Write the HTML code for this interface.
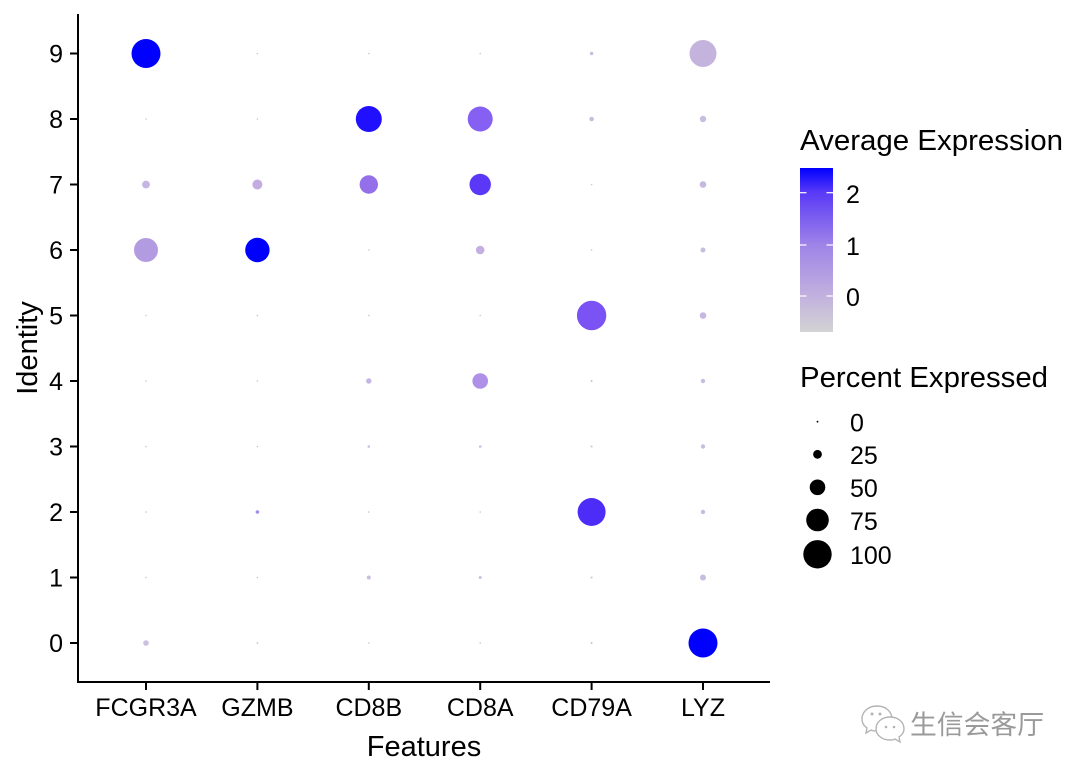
<!DOCTYPE html>
<html><head><meta charset="utf-8"><style>
html,body{margin:0;padding:0;background:#fff;}
svg{display:block;}
text{font-family:"Liberation Sans",Arial,sans-serif;fill:#000;}
</style></head><body>
<svg width="1080" height="771" viewBox="0 0 1080 771" xmlns="http://www.w3.org/2000/svg">
<defs>
<linearGradient id="cb" x1="0" y1="1" x2="0" y2="0">
<stop offset="0" stop-color="#D3D3D3"/>
<stop offset="0.22" stop-color="#C1B1DE"/>
<stop offset="0.53" stop-color="#9F84E8"/>
<stop offset="0.85" stop-color="#5A3AF6"/>
<stop offset="1" stop-color="#0000FF"/>
</linearGradient>
</defs>
<rect width="1080" height="771" fill="#fff"/>

<!-- dots -->
<g>
<!-- FCGR3A x=146 -->
<circle cx="146" cy="53.5" r="14.5" fill="#0000FF"/>
<circle cx="146" cy="119" r="0.8" fill="#c8c0dc"/>
<circle cx="146" cy="184.5" r="3.9" fill="#c6b4e2"/>
<circle cx="146" cy="250" r="12" fill="#b39be2"/>
<circle cx="146" cy="315.5" r="0.8" fill="#c8c0dc"/>
<circle cx="146" cy="381" r="0.8" fill="#c8c0dc"/>
<circle cx="146" cy="446.5" r="0.8" fill="#c8c0dc"/>
<circle cx="146" cy="512" r="0.8" fill="#c8c0dc"/>
<circle cx="146" cy="577.5" r="0.8" fill="#c8c0dc"/>
<circle cx="146" cy="643" r="2.8" fill="#cbc0df"/>
<!-- GZMB x=257.4 -->
<circle cx="257.4" cy="53.5" r="0.8" fill="#c8c0dc"/>
<circle cx="257.4" cy="119" r="0.8" fill="#c8c0dc"/>
<circle cx="257.4" cy="184.5" r="5" fill="#c2ace2"/>
<circle cx="257.4" cy="250" r="12.2" fill="#0000FF"/>
<circle cx="257.4" cy="315.5" r="0.8" fill="#c8c0dc"/>
<circle cx="257.4" cy="381" r="0.8" fill="#c8c0dc"/>
<circle cx="257.4" cy="446.5" r="0.8" fill="#c8c0dc"/>
<circle cx="257.4" cy="512" r="1.8" fill="#a58ae8"/>
<circle cx="257.4" cy="577.5" r="0.8" fill="#c8c0dc"/>
<circle cx="257.4" cy="643" r="0.9" fill="#c8c0dc"/>
<!-- CD8B x=368.8 -->
<circle cx="368.8" cy="53.5" r="0.8" fill="#c8c0dc"/>
<circle cx="368.8" cy="119" r="13" fill="#2010FF"/>
<circle cx="368.8" cy="184.5" r="9.2" fill="#9370ea"/>
<circle cx="368.8" cy="250" r="0.8" fill="#c8c0dc"/>
<circle cx="368.8" cy="315.5" r="0.8" fill="#c8c0dc"/>
<circle cx="368.8" cy="381" r="2.7" fill="#c6b4e2"/>
<circle cx="368.8" cy="446.5" r="1.3" fill="#c8c0dc"/>
<circle cx="368.8" cy="512" r="0.8" fill="#c8c0dc"/>
<circle cx="368.8" cy="577.5" r="2" fill="#cabde2"/>
<circle cx="368.8" cy="643" r="0.8" fill="#c8c0dc"/>
<!-- CD8A x=480.2 -->
<circle cx="480.2" cy="53.5" r="0.8" fill="#c8c0dc"/>
<circle cx="480.2" cy="119" r="12.5" fill="#8560f2"/>
<circle cx="480.2" cy="184.5" r="10.7" fill="#5b37f8"/>
<circle cx="480.2" cy="250" r="4.3" fill="#c4aee2"/>
<circle cx="480.2" cy="315.5" r="0.8" fill="#c8c0dc"/>
<circle cx="480.2" cy="381" r="7.8" fill="#ae90e8"/>
<circle cx="480.2" cy="446.5" r="1.3" fill="#c8c0dc"/>
<circle cx="480.2" cy="512" r="0.8" fill="#c8c0dc"/>
<circle cx="480.2" cy="577.5" r="1.5" fill="#c8c0dc"/>
<circle cx="480.2" cy="643" r="0.8" fill="#c8c0dc"/>
<!-- CD79A x=591.6 -->
<circle cx="591.6" cy="53.5" r="1.7" fill="#c8bce0"/>
<circle cx="591.6" cy="119" r="2.3" fill="#c8bce0"/>
<circle cx="591.6" cy="184.5" r="0.8" fill="#c8c0dc"/>
<circle cx="591.6" cy="250" r="0.8" fill="#c8c0dc"/>
<circle cx="591.6" cy="315.5" r="14.7" fill="#7b52f4"/>
<circle cx="591.6" cy="381" r="1" fill="#c8c0dc"/>
<circle cx="591.6" cy="446.5" r="1" fill="#c8c0dc"/>
<circle cx="591.6" cy="512" r="14" fill="#4d2cf8"/>
<circle cx="591.6" cy="577.5" r="1" fill="#c8c0dc"/>
<circle cx="591.6" cy="643" r="1" fill="#c8c0dc"/>
<!-- LYZ x=703 -->
<circle cx="703" cy="53.5" r="13.5" fill="#c4b4dd"/>
<circle cx="703" cy="119" r="3.2" fill="#c8bce0"/>
<circle cx="703" cy="184.5" r="3.3" fill="#c6b8e0"/>
<circle cx="703" cy="250" r="2.5" fill="#c8bce0"/>
<circle cx="703" cy="315.5" r="3.3" fill="#c6b8e0"/>
<circle cx="703" cy="381" r="2.2" fill="#c8bce0"/>
<circle cx="703" cy="446.5" r="2.2" fill="#c8bce0"/>
<circle cx="703" cy="512" r="2.2" fill="#c8bce0"/>
<circle cx="703" cy="577.5" r="3" fill="#c8bce0"/>
<circle cx="703" cy="643" r="14.5" fill="#0000FF"/>
</g>

<!-- axes -->
<g stroke="#000" stroke-width="2" fill="none">
<line x1="78" y1="14" x2="78" y2="683"/>
<line x1="77" y1="682" x2="770" y2="682"/>
<line x1="70" y1="53.5" x2="78" y2="53.5"/>
<line x1="70" y1="119" x2="78" y2="119"/>
<line x1="70" y1="184.5" x2="78" y2="184.5"/>
<line x1="70" y1="250" x2="78" y2="250"/>
<line x1="70" y1="315.5" x2="78" y2="315.5"/>
<line x1="70" y1="381" x2="78" y2="381"/>
<line x1="70" y1="446.5" x2="78" y2="446.5"/>
<line x1="70" y1="512" x2="78" y2="512"/>
<line x1="70" y1="577.5" x2="78" y2="577.5"/>
<line x1="70" y1="643" x2="78" y2="643"/>
<line x1="146" y1="682" x2="146" y2="690"/>
<line x1="257.4" y1="682" x2="257.4" y2="690"/>
<line x1="368.8" y1="682" x2="368.8" y2="690"/>
<line x1="480.2" y1="682" x2="480.2" y2="690"/>
<line x1="591.6" y1="682" x2="591.6" y2="690"/>
<line x1="703" y1="682" x2="703" y2="690"/>
</g>

<!-- y tick labels -->
<g font-size="25" text-anchor="end">
<text x="63" y="62.5">9</text>
<text x="63" y="128">8</text>
<text x="63" y="193.5">7</text>
<text x="63" y="259">6</text>
<text x="63" y="324.5">5</text>
<text x="63" y="390">4</text>
<text x="63" y="455.5">3</text>
<text x="63" y="521">2</text>
<text x="63" y="586.5">1</text>
<text x="63" y="652">0</text>
</g>

<!-- x tick labels -->
<g font-size="25" text-anchor="middle">
<text x="146" y="716">FCGR3A</text>
<text x="257.4" y="716">GZMB</text>
<text x="368.8" y="716">CD8B</text>
<text x="480.2" y="716">CD8A</text>
<text x="591.6" y="716">CD79A</text>
<text x="703" y="716">LYZ</text>
</g>

<!-- axis titles -->
<text x="424" y="756" font-size="29" text-anchor="middle">Features</text>
<text transform="translate(37,348) rotate(-90)" font-size="29" text-anchor="middle">Identity</text>

<!-- colour legend -->
<text x="800" y="150" font-size="29" textLength="263" lengthAdjust="spacingAndGlyphs">Average Expression</text>
<rect x="800" y="168" width="33" height="164" fill="url(#cb)"/>
<g stroke="#fff" stroke-width="1.2">
<line x1="800" y1="192.7" x2="806.5" y2="192.7"/>
<line x1="826.5" y1="192.7" x2="833" y2="192.7"/>
<line x1="800" y1="245" x2="806.5" y2="245"/>
<line x1="826.5" y1="245" x2="833" y2="245"/>
<line x1="800" y1="296" x2="806.5" y2="296"/>
<line x1="826.5" y1="296" x2="833" y2="296"/>
</g>
<g font-size="25">
<text x="846" y="203">2</text>
<text x="846" y="255">1</text>
<text x="846" y="306">0</text>
</g>

<!-- size legend -->
<text x="800" y="387" font-size="29" textLength="248" lengthAdjust="spacingAndGlyphs">Percent Expressed</text>
<circle cx="817.5" cy="421.7" r="0.9" fill="#000"/>
<circle cx="817.5" cy="454.3" r="4.4" fill="#000"/>
<circle cx="817.5" cy="487.3" r="7.8" fill="#000"/>
<circle cx="817.5" cy="520" r="11.3" fill="#000"/>
<circle cx="817.5" cy="554.3" r="14.2" fill="#000"/>
<g font-size="25">
<text x="850" y="431.5">0</text>
<text x="850" y="464">25</text>
<text x="850" y="497">50</text>
<text x="850" y="530">75</text>
<text x="850" y="564">100</text>
</g>

<!-- watermark -->
<g fill="#fff" stroke="#b4b4b4" stroke-width="1.4">
<path d="M877,706 C868,706 862,712 862,719 C862,723 864,726 867,728 L866,733 L871,730 C873,731 875,731 877,731 C886,731 892,725 892,719 C892,712 886,706 877,706 Z"/>
<path d="M890,717 C882,717 876,722 876,729 C876,735 882,740 890,740 C892,740 894,740 895,739 L900,742 L899,737 C902,735 904,732 904,729 C904,722 898,717 890,717 Z"/>
</g>
<g fill="#b4b4b4">
<circle cx="872" cy="714" r="1.5"/>
<circle cx="880" cy="714" r="1.5"/>
<circle cx="886" cy="727" r="1.3"/>
<circle cx="894" cy="727" r="1.3"/>
</g>
<text x="910" y="734" font-size="26.5" style="font-family:'Liberation Sans','Noto Sans CJK SC',sans-serif;fill:#9a9a9a;" textLength="134" lengthAdjust="spacingAndGlyphs">生信会客厅</text>
</svg>
</body></html>
